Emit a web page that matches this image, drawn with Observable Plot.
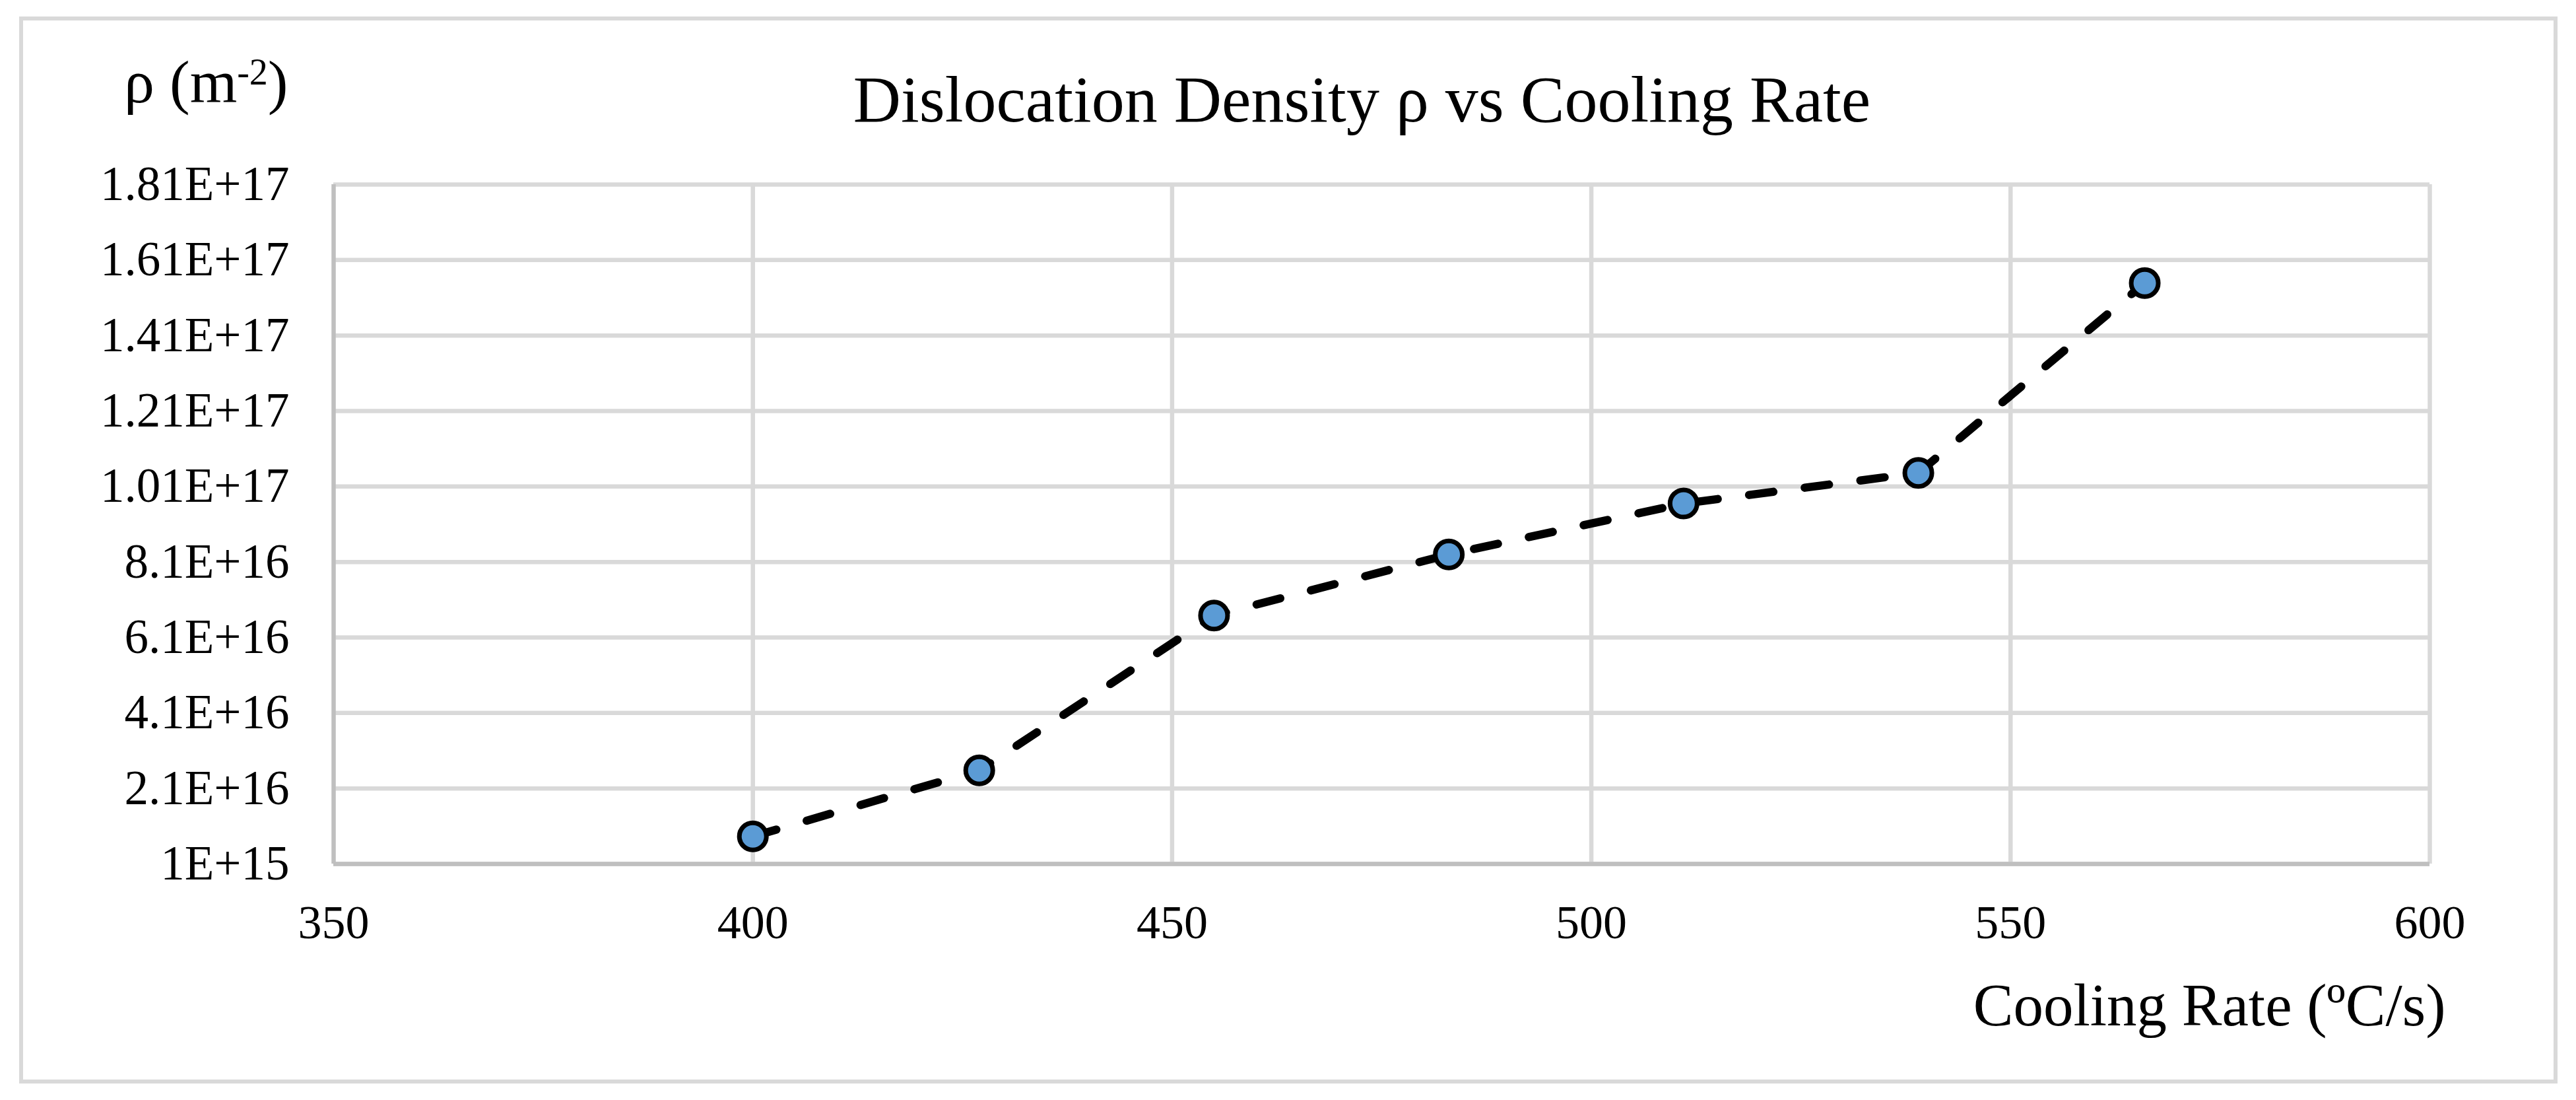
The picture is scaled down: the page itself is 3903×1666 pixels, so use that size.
<!DOCTYPE html>
<html><head><meta charset="utf-8">
<script src="https://cdn.jsdelivr.net/npm/d3@7"></script>
<script src="https://cdn.jsdelivr.net/npm/@observablehq/plot@0.6"></script>
<style>
html,body{margin:0;padding:0;background:#fff;}
#wrap{position:relative;width:3903px;height:1666px;overflow:hidden;}
#wrap svg{position:absolute;left:0;top:0;}
#box{position:absolute;left:29px;top:25px;width:3846px;height:1616px;box-sizing:border-box;border:6px solid #d9d9d9;pointer-events:none;z-index:2;}
</style></head><body><div id="wrap"><div id="box"></div></div>
<script>
const coolingRate = [400, 427, 455, 483, 511, 539, 566];
const density = [8.3e15, 2.58e16, 6.68e16, 8.30e16, 9.65e16, 1.046e17, 1.549e17];
const xTicks = [350, 400, 450, 500, 550, 600];
const yTicks = [1e15, 2.1e16, 4.1e16, 6.1e16, 8.1e16, 1.01e17, 1.21e17, 1.41e17, 1.61e17, 1.81e17];
const yTickLabels = ["1E+15","2.1E+16","4.1E+16","6.1E+16","8.1E+16","1.01E+17","1.21E+17","1.41E+17","1.61E+17","1.81E+17"];
const title = "Dislocation Density ρ vs Cooling Rate";
const yLabel = "ρ (m-2)";
const xLabel = "Cooling Rate (ºC/s)";

const data = coolingRate.map((x, i) => ({x, y: density[i]}));
const font = "'Liberation Serif', 'Times New Roman', serif";

const chart = Plot.plot({
  width: 3903,
  height: 1666,
  marginLeft: 505,
  marginRight: 222,
  marginTop: 279,
  marginBottom: 358,
  style: {fontFamily: font, background: "white", color: "black"},
  x: {domain: [xTicks[0], xTicks[xTicks.length - 1]]},
  y: {domain: [yTicks[0], yTicks[yTicks.length - 1]]},
  marks: [
    Plot.gridY(yTicks, {stroke: "#d9d9d9", strokeOpacity: 1, strokeWidth: 6.5}),
    Plot.gridX(xTicks.slice(1), {stroke: "#d9d9d9", strokeOpacity: 1, strokeWidth: 6.5}),
    Plot.ruleX([xTicks[0]], {stroke: "#bfbfbf", strokeWidth: 6.5}),
    Plot.ruleY([yTicks[0]], {stroke: "#bfbfbf", strokeWidth: 6.5}),
    Plot.line(data, {x: "x", y: "y", stroke: "black", strokeWidth: 12.5, strokeDasharray: "37,48", strokeLinecap: "round"}),
    Plot.dot(data, {x: "x", y: "y", r: 20.5, fill: "#5b9bd5", stroke: "black", strokeWidth: 7}),
    Plot.axisX({ticks: xTicks, tickSize: 0, tickPadding: 61, fontSize: 72, label: null, fill: "black"}),
    Plot.axisY({ticks: yTicks, tickFormat: d => yTickLabels[yTicks.indexOf(d)], tickSize: 0, tickPadding: 67, fontSize: 73, label: null, fill: "black"}),
    Plot.text([title], {text: d => d, frameAnchor: "top", dx: -30, dy: -96, lineAnchor: "bottom", textAnchor: "middle", fontSize: 100, fill: "black"}),
    Plot.text([yLabel], {text: d => d, frameAnchor: "top-left", dx: -69, dy: -125, lineAnchor: "bottom", textAnchor: "end", fontSize: 92, fill: "black"}),
    Plot.text([xLabel], {text: d => d, frameAnchor: "bottom-right", dx: 24, dy: 244, lineAnchor: "bottom", textAnchor: "end", fontSize: 91, fill: "black"})
  ]
});

document.getElementById("wrap").appendChild(chart);

// superscript for the y label unit
d3.select(chart).selectAll("text").each(function() {
  if (this.textContent === yLabel) {
    const t = d3.select(this);
    t.text(null);
    t.append("tspan").text("ρ (m");
    t.append("tspan").attr("font-size", 56).attr("dy", -27).text("-2");
    t.append("tspan").attr("font-size", 92).attr("dy", 27).text(")");
  }
});
</script></body></html>
